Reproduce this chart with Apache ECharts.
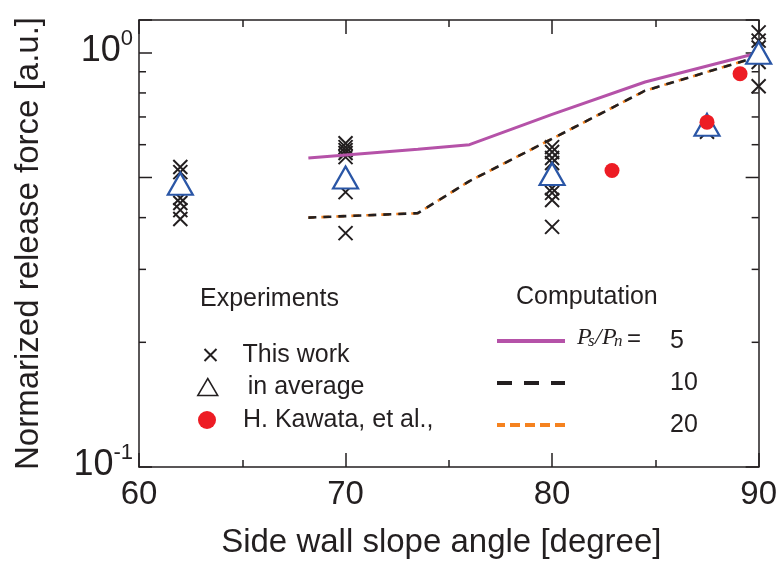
<!DOCTYPE html>
<html>
<head>
<meta charset="utf-8">
<script src="https://cdn.jsdelivr.net/npm/echarts@6/dist/echarts.min.js"></script>
<style>html,body{margin:0;padding:0;background:#fff;}#chart{width:780px;height:564px;}</style>
</head>
<body>
<div id="chart"></div>
<script>
// ---- data ----
const thisWorkAngle = [62,62,62,62,62,62, 70,70,70,70,70,70,70, 80,80,80,80,80,80,80,80, 87.5, 90,90,90,90,90];
const thisWorkForce = [0.53,0.515,0.446,0.434,0.417,0.397, 0.605,0.592,0.582,0.573,0.56,0.461,0.367, 0.592,0.576,0.557,0.542,0.471,0.459,0.441,0.38, 0.645, 1.12,1.07,1.03,0.95,0.83];
const avgAngle = [62, 70, 80, 87.5, 90];
const avgForce = [0.483, 0.50, 0.51, 0.67, 1.0];
const kawataAngle = [82.9, 87.5, 89.1];
const kawataForce = [0.52, 0.68, 0.89];
const compAngle = [68.2, 73.5, 76, 80, 84.5, 90];
const ratio5  = [0.557, 0.585, 0.60, 0.71, 0.85, 1.0];
const ratio10 = [0.40, 0.41, 0.49, 0.62, 0.81, 0.98];
const ratio20 = [0.40, 0.41, 0.49, 0.62, 0.81, 0.98];
const yMinorTicks = [0.2, 0.3, 0.4, 0.5, 0.6, 0.7, 0.8, 0.9];
const yLongTicks = [0.5];

const FONT = '"Liberation Sans", Arial, sans-serif';
const TXT = '#231f20';
const MAGENTA = '#b552a8';
const ORANGE = '#f5821f';
const pairs = (xs, ys) => xs.map((x, i) => [x, ys[i]]);
const hiddenSym = {color: 'rgba(0,0,0,0)', borderWidth: 0, opacity: 0};

const chart = echarts.init(document.getElementById('chart'), null, {renderer: 'canvas'});

function powLabel(v) {
  const e = Math.round(Math.log10(v));
  if (Math.abs(Math.log10(v) - e) > 1e-6) return '';
  return '{b|10}{s|' + e + '}';
}

const option = {
  animation: false,
  backgroundColor: '#fff',
  grid: {left: 139, right: 20, top: 20, bottom: 97, containLabel: false},
  xAxis: [{
    type: 'value', min: 60, max: 90, interval: 10,
    name: 'Side wall slope angle [degree]', nameLocation: 'middle', nameGap: 59,
    nameTextStyle: {fontFamily: FONT, fontSize: 33, color: TXT, padding: [0, 15, 0, 0]},
    axisLine: {show: true, onZero: false, lineStyle: {color: TXT, width: 1.5}},
    axisTick: {show: true, inside: true, length: 14, lineStyle: {color: TXT, width: 1.5}},
    minorTick: {show: true, splitNumber: 2, length: 7, lineStyle: {color: TXT, width: 1.5}},
    axisLabel: {fontFamily: FONT, fontSize: 33, color: TXT, margin: 11},
    splitLine: {show: false}
  }, {
    type: 'value', min: 60, max: 90, interval: 10, position: 'top',
    axisLine: {show: true, onZero: false, lineStyle: {color: TXT, width: 1.5}},
    axisTick: {show: true, inside: true, length: 14, lineStyle: {color: TXT, width: 1.5}},
    minorTick: {show: true, splitNumber: 2, length: 7, lineStyle: {color: TXT, width: 1.5}},
    axisLabel: {show: false},
    splitLine: {show: false}
  }],
  yAxis: [{
    type: 'log', logBase: 10, min: 0.1, max: 1.2,
    name: 'Normarized release force [a.u.]', nameLocation: 'middle', nameGap: 94,
    nameTextStyle: {fontFamily: FONT, fontSize: 33, color: TXT},
    axisLine: {show: true, onZero: false, lineStyle: {color: TXT, width: 1.5}},
    axisTick: {show: true, inside: true, length: 13, lineStyle: {color: TXT, width: 1.5}},
    axisLabel: {
      margin: 6, formatter: powLabel, padding: [0, 0, 14, 0],
      rich: {
        b: {fontFamily: FONT, fontSize: 36, color: TXT, lineHeight: 36, padding: [10, 0, 0, 0]},
        s: {fontFamily: FONT, fontSize: 22, color: TXT, lineHeight: 22, verticalAlign: 'top'}
      }
    },
    splitLine: {show: false}
  }, {
    type: 'log', logBase: 10, min: 0.1, max: 1.2, position: 'right',
    axisLine: {show: true, onZero: false, lineStyle: {color: TXT, width: 1.5}},
    axisTick: {show: true, inside: true, length: 13, lineStyle: {color: TXT, width: 1.5}},
    axisLabel: {show: false},
    splitLine: {show: false}
  }],
  legend: [{
    data: [{name: 'This work'}],
    orient: 'vertical', left: 202, top: 342.5, padding: 0,
    itemWidth: 12, itemHeight: 12, selectedMode: false,
    textStyle: {fontFamily: FONT, fontSize: 25, color: TXT, padding: [0, 0, 0, 21]}
  }, {
    data: [{name: 'in average', icon: 'triangle', itemStyle: {color: '#fff', borderColor: TXT, borderWidth: 1.5}}],
    orient: 'vertical', left: 197, top: 374.5, padding: 0,
    itemWidth: 20, itemHeight: 17, selectedMode: false,
    textStyle: {fontFamily: FONT, fontSize: 25, color: TXT, padding: [0, 0, 0, 25]}
  }, {
    data: [{name: 'H. Kawata, et al.,', icon: 'circle'}],
    orient: 'vertical', left: 198, top: 407.5, padding: 0,
    itemWidth: 18, itemHeight: 20, selectedMode: false,
    textStyle: {fontFamily: FONT, fontSize: 25, color: TXT, padding: [0, 0, 0, 22]}
  }, {
    data: [
      {name: '5', itemStyle: hiddenSym, lineStyle: {color: MAGENTA, width: 4, type: 'solid'}},
      {name: '10', itemStyle: hiddenSym, lineStyle: {color: TXT, width: 4, type: [15, 12]}},
      {name: '20', itemStyle: hiddenSym, lineStyle: {color: ORANGE, width: 4, type: [10, 5]}}
    ],
    orient: 'vertical', left: 495, top: 328.5, padding: 0, itemGap: 17,
    itemWidth: 68, itemHeight: 14, selectedMode: false,
    textStyle: {fontFamily: FONT, fontSize: 25, color: TXT, padding: [0, 0, 0, 100]}
  }],
  graphic: [
    {type: 'text', left: 200, top: 287, style: {text: 'Experiments', font: '25px ' + FONT, fill: TXT}},
    {type: 'text', left: 516, top: 285, style: {text: 'Computation', font: '25px ' + FONT, fill: TXT}},
    {type: 'text', left: 577, top: 326, style: {text: 'P', font: 'italic 24px "Liberation Serif", serif', fill: TXT}},
    {type: 'text', left: 588, top: 333, style: {text: 's', font: 'italic 17px "Liberation Serif", serif', fill: TXT}},
    {type: 'text', left: 595, top: 326, style: {text: '/', font: 'italic 24px "Liberation Serif", serif', fill: TXT}},
    {type: 'text', left: 602, top: 326, style: {text: 'P', font: 'italic 24px "Liberation Serif", serif', fill: TXT}},
    {type: 'text', left: 614, top: 333, style: {text: 'n', font: 'italic 17px "Liberation Serif", serif', fill: TXT}},
    {type: 'text', left: 627, top: 327, style: {text: '=', font: '24px ' + FONT, fill: TXT}}
  ],
  series: [
    {
      name: 'This work', type: 'scatter', z: 2,
      symbol: 'path://M0,0L10,10M10,0L0,10', symbolSize: 14,
      itemStyle: {color: 'none', borderColor: TXT, borderWidth: 2, opacity: 1},
      data: pairs(thisWorkAngle, thisWorkForce)
    },
    {
      name: '20', type: 'line', z: 3, symbol: 'none',
      itemStyle: {color: ORANGE},
      lineStyle: {color: ORANGE, width: 2.6, type: [8, 7], dashOffset: 2},
      data: pairs(compAngle, ratio20)
    },
    {
      name: '10', type: 'line', z: 4, symbol: 'none',
      itemStyle: {color: TXT},
      lineStyle: {color: TXT, width: 2.6, type: [8, 7]},
      data: pairs(compAngle, ratio10)
    },
    {
      name: '5', type: 'line', z: 5, symbol: 'none',
      itemStyle: {color: MAGENTA},
      lineStyle: {color: MAGENTA, width: 3},
      data: pairs(compAngle, ratio5)
    },
    {
      name: 'in average', type: 'scatter', z: 6,
      symbol: 'triangle', symbolSize: [25, 22],
      itemStyle: {color: '#fff', borderColor: '#2a56a6', borderWidth: 2.2, opacity: 1},
      data: pairs(avgAngle, avgForce)
    },
    {
      name: 'H. Kawata, et al.,', type: 'scatter', z: 7,
      symbol: 'circle', symbolSize: 15,
      itemStyle: {color: '#ed1c24', opacity: 1},
      data: pairs(kawataAngle, kawataForce)
    },
    {
      name: 'ytick', type: 'custom', z: 10, silent: true, clip: false,
      data: yMinorTicks.map(v => [60, v]),
      renderItem: function (params, api) {
        const v = api.value(1);
        const isLong = yLongTicks.indexOf(v) >= 0;
        const len = isLong ? 13 : 7;
        const p = api.coord([60, v]);
        const q = api.coord([90, v]);
        const st = {stroke: TXT, lineWidth: 1.5};
        return {
          type: 'group',
          children: [
            {type: 'line', shape: {x1: p[0], y1: p[1], x2: p[0] + len, y2: p[1]}, style: st},
            {type: 'line', shape: {x1: q[0], y1: q[1], x2: q[0] - len, y2: q[1]}, style: st}
          ]
        };
      }
    }
  ]
};
chart.setOption(option);
</script>
</body>
</html>
